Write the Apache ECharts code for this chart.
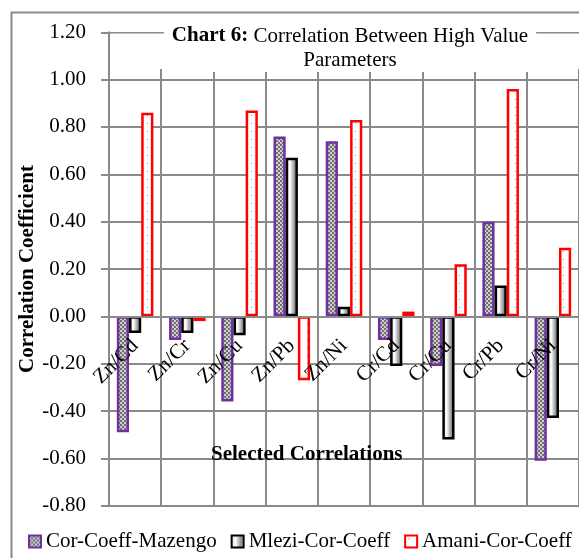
<!DOCTYPE html>
<html>
<head>
<meta charset="utf-8">
<script src="https://cdn.jsdelivr.net/npm/echarts@6/dist/echarts.min.js"></script>
<style>
html,body{margin:0;padding:0;background:#fff;}
#c{width:579px;height:558px;}
</style>
</head>
<body>
<div id="c"></div>
<script>
var categories = ['Zn/Cd','Zn/Cr','Zn/Cu','Zn/Pb','Zn/Ni','Cr/Cd','Cr/Cu','Cr/Pb','Cr/Ni'];
var mazengo = [-0.49, -0.10, -0.36, 0.76, 0.74, -0.10, -0.21, 0.40, -0.61];
var mlezi = [-0.07, -0.07, -0.08, 0.67, 0.04, -0.21, -0.52, 0.13, -0.43];
var amani = [0.86, -0.02, 0.87, -0.27, 0.83, 0.02, 0.22, 0.96, 0.29];
var seriesNames = ['Cor-Coeff-Mazengo','Mlezi-Cor-Coeff','Amani-Cor-Coeff'];
var yTicks = {min: -0.8, max: 1.2, interval: 0.2};

var FONT = 'Liberation Serif';
var FS = 21;
var GRID = '#8a8a8a';

function checker(){
  var c = document.createElement('canvas'); c.width = 4; c.height = 4;
  var g = c.getContext('2d');
  g.fillStyle = '#cfcfcf'; g.fillRect(0,0,4,4);
  g.fillStyle = '#707070';
  g.fillRect(0,0,2,2); g.fillRect(2,2,2,2);
  return c;
}
function dots(){
  var c = document.createElement('canvas'); c.width = 8; c.height = 8;
  var g = c.getContext('2d');
  g.fillStyle = '#ffffff'; g.fillRect(0,0,8,8);
  g.fillStyle = '#9a9a9a'; g.fillRect(3,3,1,1);
  return c;
}

var chart = echarts.init(document.getElementById('c'), null, {renderer:'canvas'});
var option = {
  backgroundColor: '#fff',
  animation: false,
  title: {
    text: '{b|Chart 6:} Correlation Between High Value\nParameters',
    left: 342, top: 24, textAlign: 'center',
    backgroundColor: '#fff',
    padding: [0, 8, 0, 8],
    textStyle: {
      fontFamily: FONT, fontSize: FS, fontWeight: 'normal', color: '#000', lineHeight: 24,
      rich: { b: {fontFamily: FONT, fontSize: FS, fontWeight: 'bold', color: '#000', lineHeight: 24} }
    }
  },
  legend: {
    left: 23, top: 526, itemWidth: 12, itemHeight: 12, itemGap: 14,
    icon: 'rect',
    textStyle: {fontFamily: FONT, fontSize: FS, color: '#000'},
    data: seriesNames
  },
  grid: {left: 109, top: 32.3, right: -8, bottom: 52.3, containLabel: false},
  xAxis: {
    type: 'category', data: categories,
    offset: -189, z: 3,
    axisLine: {show: true, onZero: false, lineStyle: {color: GRID, width: 2}},
    axisTick: {show: false},
    splitLine: {show: true, interval: 0, lineStyle: {color: GRID, width: 2}},
    axisLabel: {interval: 0, rotate: 45, margin: 26, fontFamily: FONT, fontSize: FS, color: '#000'}
  },
  yAxis: {
    type: 'value', min: yTicks.min, max: yTicks.max, interval: yTicks.interval,
    name: 'Correlation Coefficient', nameLocation: 'middle', nameGap: 71, nameMoveOverlap: false,
    nameTextStyle: {fontFamily: FONT, fontSize: FS, fontWeight: 'bold', color: '#000'},
    axisLine: {show: true, lineStyle: {color: GRID, width: 2}},
    axisTick: {show: true, length: 8, lineStyle: {color: GRID, width: 2}},
    splitLine: {show: true, lineStyle: {color: GRID, width: 2}},
    axisLabel: {margin: 23, fontFamily: FONT, fontSize: FS, color: '#000',
      formatter: function(v){ return (Math.abs(v) < 1e-9 ? 0 : v).toFixed(2); }}
  },
  graphic: [
    {type: 'rect', z: 5, silent: true, shape: {x: 110.5, y: 33.5, width: 480, height: 35.5},
     style: {fill: '#fff'}},
    {type: 'rect', z: 10, silent: true, shape: {x: 11.5, y: 12.5, width: 700, height: 700},
     style: {fill: 'none', stroke: GRID, lineWidth: 2}},
    {type: 'text', z: 10, left: 211, top: 444,
     style: {text: 'Selected Correlations', fontFamily: FONT, fontSize: FS, fontWeight: 'bold', fill: '#000'}}
  ],
  series: [
    {name: seriesNames[0], type: 'bar', data: mazengo, barGap: '0%', barCategoryGap: '30%',
     itemStyle: {color: {image: checker(), repeat: 'repeat'}, borderColor: '#7030A0', borderWidth: 2.5}},
    {name: seriesNames[1], type: 'bar', data: mlezi, barGap: '0%', barCategoryGap: '30%',
     itemStyle: {color: new echarts.graphic.LinearGradient(0,0,1,0,[
       {offset:0,color:'#d0d0d0'},{offset:0.35,color:'#ffffff'},{offset:0.75,color:'#8c8c8c'},{offset:1,color:'#d8d8d8'}]),
       borderColor: '#000', borderWidth: 2.5}},
    {name: seriesNames[2], type: 'bar', data: amani, barGap: '0%', barCategoryGap: '30%',
     itemStyle: {color: {image: dots(), repeat: 'repeat'}, borderColor: '#ff0000', borderWidth: 2.5}}
  ]
};
chart.setOption(option);
</script>
</body>
</html>
